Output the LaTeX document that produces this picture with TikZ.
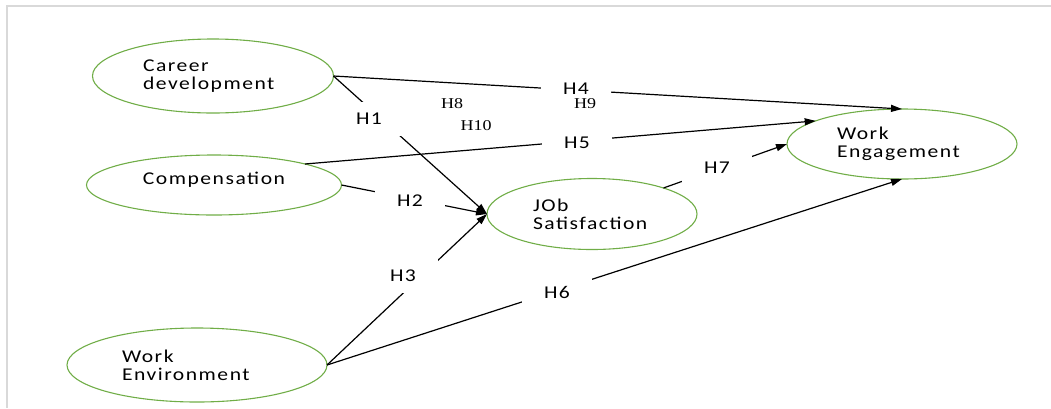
\documentclass[tikz,border=0pt]{standalone}
\usepackage{fontspec}
\usepackage{graphicx}
\newfontfamily\diafont{Carlito}[LetterSpace=7]
\newfontfamily\serfont{Liberation Serif}
\usetikzlibrary{shapes.geometric,arrows.meta}
\definecolor{ellgreen}{RGB}{112,173,71}
\definecolor{framegray}{RGB}{217,217,217}
\newcommand{\sx}[1]{\scalebox{1.2}[1]{#1}}
\begin{document}
\begin{tikzpicture}[x=1pt,y=-1pt,
  construct/.style={ellipse, draw=ellgreen, line width=1.1pt, inner sep=0pt, outer sep=0pt,
    font=\diafont\fontsize{18}{18}\selectfont, text=black},
  hlab/.style={fill=white, inner xsep=22pt, inner ysep=11pt, font=\diafont\fontsize{18}{18}\selectfont},
  hser/.style={inner sep=0pt, font=\serfont\fontsize{15}{16}\selectfont},
  conn/.style={draw=black, line width=1.2pt},
  arr/.style={conn, -{Triangle[length=11pt,width=7pt]}}
]
\useasboundingbox (0,0) rectangle (1051,408);
\draw[framegray, line width=2pt] (1051,6) -- (7,6) -- (7,408);

\node[construct, minimum width=241pt, minimum height=74pt, text width=140pt, align=left] (career) at (213,76) {\sx{Career}\\\sx{development}};
\node[construct, minimum width=255pt, minimum height=60pt, text height=10pt, text depth=11pt] (comp) at (214,185) {\sx{Compensation}};
\node[construct, minimum width=260pt, minimum height=74pt, text width=150pt, align=left] (env) at (197,365) {\sx{Work}\\\sx{Environment}};
\node[construct, minimum width=210pt, minimum height=71pt, text width=118pt, align=left] (job) at (592,214) {\sx{JOb}\\\sx{Satisfaction}};
\node[construct, minimum width=230pt, minimum height=70pt, text width=130pt, align=left] (eng) at (902,144) {\sx{Work}\\\sx{Engagement}};

\draw[arr] (career.east) -- (job.west);
\draw[arr] (career.east) -- (eng.north);
\draw[arr] (comp.east) -- (job.west);
\draw[arr] (comp.13) -- (eng.165);
\draw[arr] (env.east) -- (job.west);
\draw[arr] (env.east) -- (eng.south);
\draw[arr] (job.20) -- (eng.west);

\node[hlab] (h1) at (369,119) {\sx{H1}};
\node[hlab] (h2) at (410,201) {\sx{H2}};
\node[hlab] (h3) at (403,276) {\sx{H3}};
\node[hlab] (h4) at (576,89) {\sx{H4}};
\node[hlab] (h5) at (577,143) {\sx{H5}};
\node[hlab] (h6) at (557,292) {\sx{H6}};
\node[hlab] (h7) at (717,168) {\sx{H7}};

\node[hser] (h8) at (452,104) {\sx{H8}};
\node[hser] (h9) at (585,104) {\sx{H9}};
\node[hser] (h10) at (476,126) {\sx{H10}};
\end{tikzpicture}
\end{document}
